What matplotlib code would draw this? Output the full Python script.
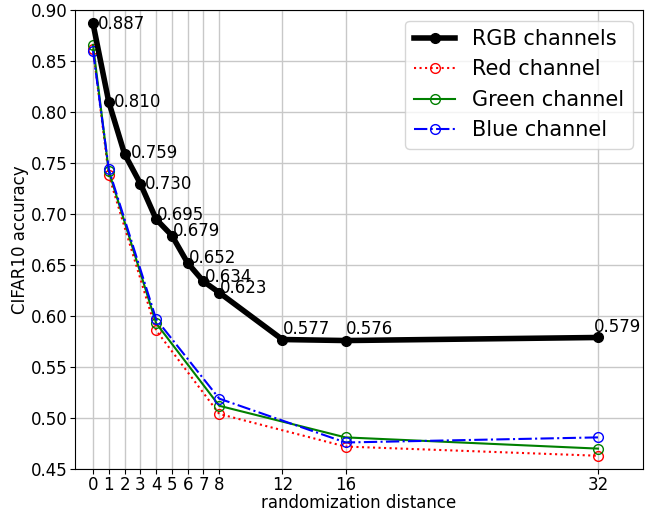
import matplotlib
matplotlib.use('Agg')
import matplotlib.pyplot as plt

# randomization distances and accuracies
distance = [0, 1, 2, 3, 4, 5, 6, 7, 8, 12, 16, 32]
rgb_acc = [0.887, 0.810, 0.759, 0.730, 0.695, 0.679, 0.652, 0.634, 0.623, 0.577, 0.576, 0.579]

channel_distance = [0, 1, 4, 8, 16, 32]
red_acc = [0.862, 0.738, 0.586, 0.504, 0.472, 0.463]
green_acc = [0.866, 0.742, 0.593, 0.512, 0.481, 0.470]
blue_acc = [0.860, 0.744, 0.597, 0.519, 0.476, 0.481]

# label nudges (pixels) so the value labels sit like the original
label_dx = [5, 5, 6, 5, 1, 1, 1, 1, 1, 0, 0, -4]
label_dy = [-1, 0, 1, 0, 4, 5, 5, 4, 5, 11, 12, 10]


def main():
    fig = plt.figure(figsize=(6.5, 5.12), dpi=100)
    ax = fig.add_axes([0.1154, 0.084, 0.8738, 0.896])

    ax.plot(distance, rgb_acc, color='black', lw=4, marker='o', ms=7,
            label='RGB channels', zorder=5)
    ax.plot(channel_distance, red_acc, color='red', ls=':', lw=1.5,
            marker='o', ms=7, fillstyle='none', label='Red channel')
    ax.plot(channel_distance, green_acc, color='green', ls='-', lw=1.5,
            marker='o', ms=7, fillstyle='none', label='Green channel')
    ax.plot(channel_distance, blue_acc, color='blue', ls='-.', lw=1.5,
            marker='o', ms=7, fillstyle='none', label='Blue channel')

    # value labels next to the RGB points
    for x, y, dx, dy in zip(distance, rgb_acc, label_dx, label_dy):
        ax.annotate(f'{y:.3f}', (x, y), xytext=(dx, dy),
                    textcoords='offset pixels', fontsize=12,
                    ha='left', va='center', zorder=6)

    ax.set_xticks(distance)
    ax.set_xlim(-1.14, 34.85)
    ax.set_ylim(0.45, 0.90)
    ax.tick_params(labelsize=12, pad=1.5)
    ax.grid(True, color='#c8c8c8', lw=1)
    ax.set_axisbelow(True)

    ax.set_xlabel('randomization distance', fontsize=12, labelpad=0)
    ax.set_ylabel('CIFAR10 accuracy', fontsize=12, labelpad=2)
    ax.legend(loc='upper right', fontsize=15)

    fig.savefig('out.png', dpi=100)
    plt.close()


if __name__ == '__main__':
    main()
